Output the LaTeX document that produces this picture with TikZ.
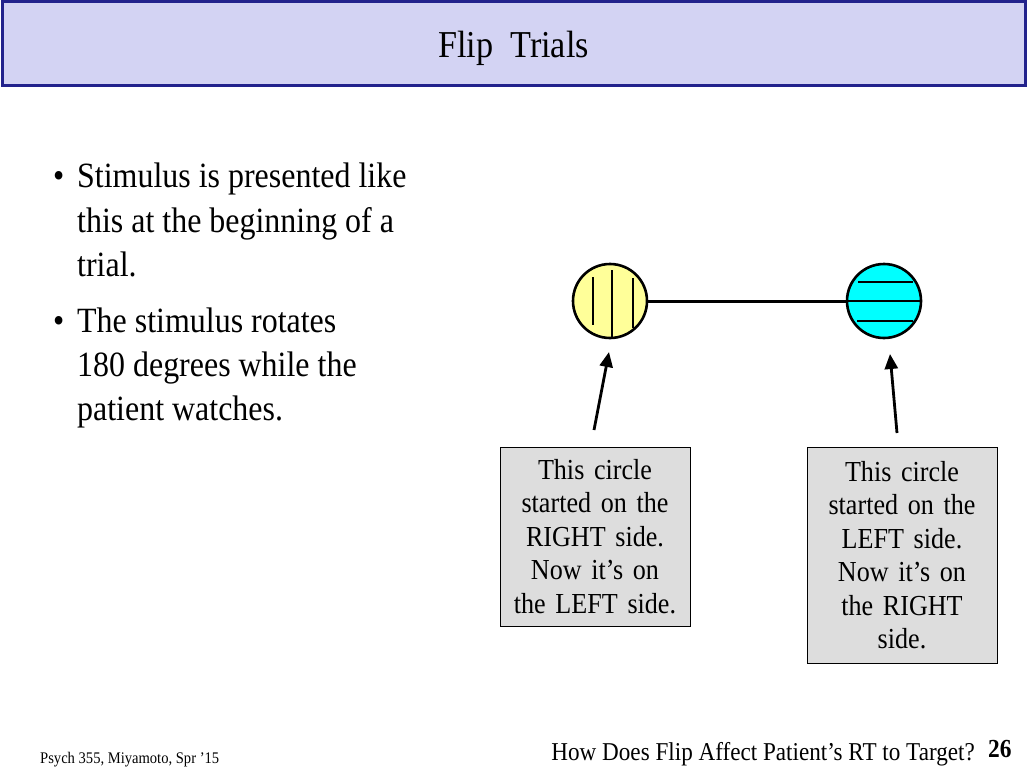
\documentclass[tikz,border=0pt]{standalone}
\usepackage{fontspec}
\setmainfont{Liberation Serif}[FakeStretch=0.9]
\usetikzlibrary{arrows.meta}
\definecolor{titlefill}{HTML}{D3D3F3}
\definecolor{titleedge}{HTML}{22228C}
\definecolor{yelfill}{HTML}{FFFF99}
\definecolor{cyanfill}{HTML}{00FFFF}
\definecolor{boxfill}{HTML}{DDDDDD}
\tikzset{
  bodytext/.style={anchor=base west, inner sep=0pt, font=\fontsize{35.5}{40}\selectfont},
  bulletmark/.style={anchor=base west, inner sep=0pt, font=\fontsize{35.5}{40}\selectfont},
  notebox/.style={draw=black, line width=0.8pt, fill=boxfill, minimum width=190pt, text width=184pt,
    align=center, inner sep=0pt, font=\fontsize{29}{33.5}\selectfont},
  ball/.style={circle, draw=black, line width=2.6pt, minimum size=74pt, inner sep=0pt},
  stripe/.style={line width=2.6pt, line cap=butt},
  pointer/.style={line width=2.8pt, -{Triangle[length=15pt,width=13pt]}},
}
\begin{document}
\begin{tikzpicture}[x=1pt,y=-1pt]
\useasboundingbox (0,0) rectangle (1027,770);
\fill[white] (0,0) rectangle (1027,770);
% title bar
\node[draw=titleedge, line width=3pt, fill=titlefill, minimum width=1023pt, minimum height=84pt, inner sep=0pt] (titlebar) at (513.5,43.5) {};
\node[anchor=base, inner sep=0pt, font=\fontsize{38}{42}\selectfont] (title) at (513.5,58) {Flip\ \ Trials};
% bullets
\node[bulletmark] (b1) at (53,188) {\textbullet};
\node[bodytext] (l1) at (77,188) {Stimulus\ is presented like};
\node[bodytext] (l2) at (77,232) {this at the beginning of a};
\node[bodytext] (l3) at (77,276) {trial.};
\node[bulletmark] (b2) at (53,332) {\textbullet};
\node[bodytext] (l4) at (77,332) {The stimulus rotates};
\node[bodytext] (l5) at (77,376) {180 degrees while the};
\node[bodytext] (l6) at (77,420) {patient watches.};
% circles
\node[ball, fill=yelfill] (L) at (610,301) {};
\node[ball, fill=cyanfill] (R) at (884,301) {};
\draw[line width=3pt] (L.east) -- (R.west);
\draw[stripe] ([shift={(-17,-24)}]L.center) -- ([shift={(-17,24)}]L.center);
\draw[stripe] ([shift={(2,-31)}]L.center) -- ([shift={(2,36)}]L.center);
\draw[stripe] ([shift={(23,-23)}]L.center) -- ([shift={(23,27)}]L.center);
\draw[stripe] ([shift={(-26,-19)}]R.center) -- ([shift={(29,-19)}]R.center);
\draw[stripe] (R.west) -- (R.east);
\draw[stripe] ([shift={(-27,20)}]R.center) -- ([shift={(29,20)}]R.center);
% arrows
\coordinate (t1) at (594,430);
\coordinate (h1) at (609,352);
\coordinate (t2) at (897,433);
\coordinate (h2) at (890,354);
\draw[pointer] (t1) -- (h1);
\draw[pointer] (t2) -- (h2);
% boxes
\node[notebox, minimum height=179pt] (box1) at (595,536.5) {This circle\\started on the\\RIGHT side.\\Now it’s on\\the LEFT side.};
\node[notebox, minimum height=216pt] (box2) at (902,555) {This circle\\started on the\\LEFT side.\\Now it’s on\\the RIGHT\\side.};
% footer
\node[anchor=base west, inner sep=0pt, font=\fontsize{16.2}{18}\selectfont] (foot1) at (40,763) {Psych 355, Miyamoto, Spr '15};
\node[anchor=base east, inner sep=0pt, font=\fontsize{25.7}{28}\selectfont] (foot2) at (975,760) {How Does Flip Affect Patient’s RT to Target?};
\node[anchor=base west, inner sep=0pt, font=\fontsize{26}{30}\selectfont\bfseries] (pagenum) at (988,757) {26};
\end{tikzpicture}
\end{document}
